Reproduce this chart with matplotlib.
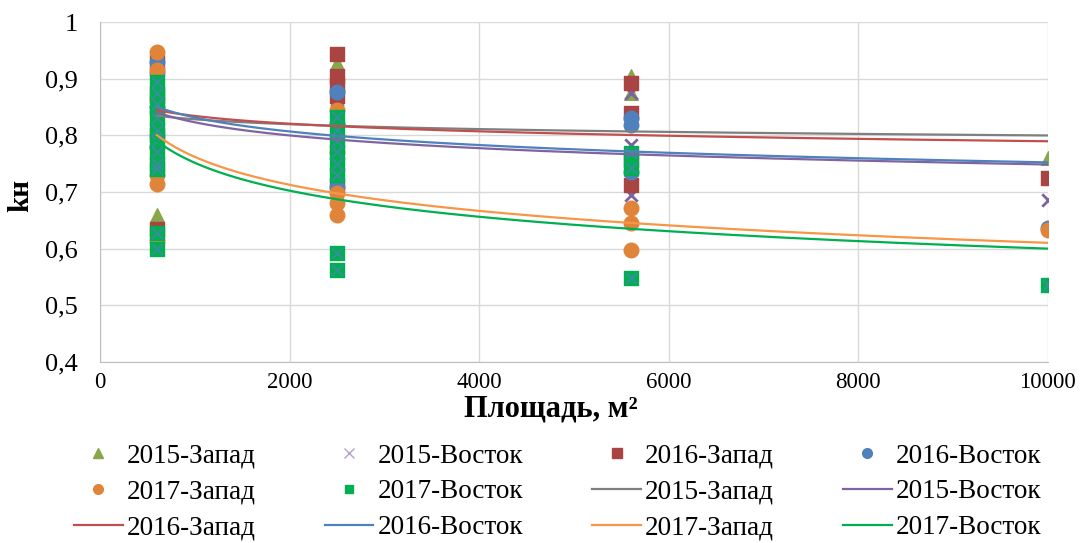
import numpy as np
import matplotlib
matplotlib.use('Agg')
import matplotlib.pyplot as plt
from matplotlib.lines import Line2D

plt.rcParams['font.family'] = ['Liberation Serif', 'DejaVu Serif']

# measured points: area (m2) and kн for each year / side
x_2015_w = [600, 600, 600, 600, 2500, 2500, 2500, 5600, 5600, 5600, 10000]
y_2015_w = [0.66, 0.65, 0.86, 0.79, 0.927, 0.853, 0.78, 0.905, 0.875, 0.74, 0.76]

x_2015_e = [600, 600, 600, 600, 2500, 2500, 2500, 5600, 5600, 5600, 10000]
y_2015_e = [0.84, 0.88, 0.76, 0.62, 0.845, 0.80, 0.72, 0.874, 0.783, 0.695, 0.686]

x_2016_w = [600, 600, 600, 600, 2500, 2500, 2500, 2500, 2500, 5600, 5600, 5600, 5600, 10000]
y_2016_w = [0.93, 0.87, 0.80, 0.635, 0.943, 0.905, 0.888, 0.87, 0.712, 0.892, 0.839, 0.756, 0.712, 0.724]

x_2016_e = [600, 600, 600, 600, 2500, 2500, 2500, 5600, 5600, 5600, 10000]
y_2016_e = [0.93, 0.91, 0.85, 0.78, 0.877, 0.82, 0.708, 0.83, 0.818, 0.735, 0.636]

x_2017_w = [600, 600, 600, 600, 600, 600, 2500, 2500, 2500, 2500, 2500, 5600, 5600, 5600, 10000]
y_2017_w = [0.947, 0.915, 0.841, 0.73, 0.715, 0.614, 0.845, 0.77, 0.698, 0.68, 0.659, 0.672, 0.645, 0.598, 0.633]

x_2017_e = [600] * 11 + [2500] * 8 + [5600] * 3 + [10000]
y_2017_e = [0.895, 0.875, 0.855, 0.83, 0.81, 0.79, 0.77, 0.75, 0.74, 0.627, 0.60,
            0.832, 0.81, 0.79, 0.77, 0.75, 0.73, 0.592, 0.562,
            0.768, 0.742, 0.548,
            0.536]

# power trend lines y = a * x^b
trend_a = [0.920, 1.094, 0.984, 1.123, 1.483, 1.477]
trend_b = [-0.0152, -0.0412, -0.0239, -0.0435, -0.0964, -0.0978]

names = ['2015-Запад', '2015-Восток', '2016-Запад', '2016-Восток', '2017-Запад', '2017-Восток']
line_colors = ['#7F7F7F', '#8064A2', '#C0504D', '#4F81BD', '#F79646', '#00B050']

fig = plt.figure(figsize=(10.87, 5.43), dpi=100)
ax = fig.add_axes([0.092, 0.3334, 0.872, 0.626])

ax.scatter(x_2015_w, y_2015_w, marker='^', s=95, color='#8AA64B', zorder=3)
ax.scatter(x_2015_e, y_2015_e, marker='x', s=80, color='#7C62A0', linewidths=2, zorder=3)
ax.scatter(x_2016_w, y_2016_w, marker='s', s=100, color='#A94442', zorder=3)
ax.scatter(x_2016_e, y_2016_e, marker='o', s=110, color='#4F81BD', zorder=3)
ax.scatter(x_2017_w, y_2017_w, marker='o', s=110, color='#E0843A', zorder=3)
ax.scatter(x_2017_e, y_2017_e, marker='s', s=100, color='#00B050', zorder=3)
ax.scatter(x_2017_e, y_2017_e, marker='x', s=60, color='#4F81BD', linewidths=1.5, alpha=0.7, zorder=3)

xs = np.linspace(600, 10000, 300)
for a, b, c in zip(trend_a, trend_b, line_colors):
    ax.plot(xs, a * xs ** b, color=c, linewidth=1.6, zorder=4)

ax.set_xlim(0, 10000)
ax.set_ylim(0.4, 1.0)
ax.set_xticks(np.arange(0, 10001, 2000))
yt = np.round(np.arange(0.4, 1.001, 0.1), 1)
ax.set_yticks(yt)
ax.set_yticklabels([('%g' % v).replace('.', ',') for v in yt])
ax.tick_params(axis='x', labelsize=16.5, length=0, pad=7)
ax.tick_params(axis='y', labelsize=19, length=0, pad=16)
ax.grid(color='#D9D9D9', linewidth=1)
ax.set_axisbelow(True)
for s in ['top', 'right']:
    ax.spines[s].set_visible(False)
for s in ['left', 'bottom']:
    ax.spines[s].set_color('#BFBFBF')

ax.set_xlabel('Площадь, м²', fontsize=22, fontweight='bold')
ax.xaxis.set_label_coords(0.476, -0.097)
ax.set_ylabel('kн', fontsize=21, fontweight='bold')
ax.yaxis.set_label_coords(-0.069, 0.49)

# legend: markers first, then trend lines, filled row by row
handles = [
    Line2D([], [], linestyle='none', marker='^', markersize=7, color='#8AA64B'),
    Line2D([], [], linestyle='none', marker='x', markersize=7, color='#B3A2C8'),
    Line2D([], [], linestyle='none', marker='s', markersize=7, color='#A94442'),
    Line2D([], [], linestyle='none', marker='o', markersize=7, color='#4F81BD'),
    Line2D([], [], linestyle='none', marker='o', markersize=7, color='#E0843A'),
    Line2D([], [], linestyle='none', marker='s', markersize=6, color='#00B050'),
]
handles += [Line2D([], [], color=c, linewidth=1.6) for c in line_colors]
labels = names + names
order = [r * 4 + c for c in range(4) for r in range(3)]
fig.legend([handles[i] for i in order], [labels[i] for i in order],
           loc='lower center', bbox_to_anchor=(0.513, -0.02), ncol=4, frameon=False,
           fontsize=19.5, handlelength=1.8, columnspacing=2.55, labelspacing=0.4,
           handletextpad=0.15, borderpad=0)

fig.savefig('out.png', dpi=100)
